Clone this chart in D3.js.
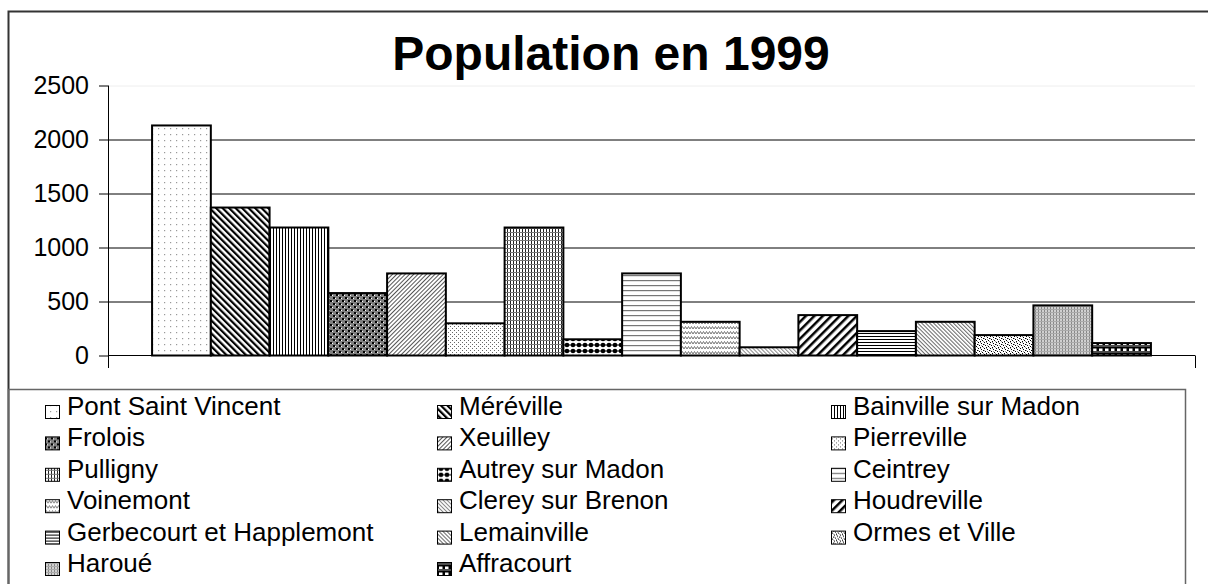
<!DOCTYPE html>
<html>
<head>
<meta charset="utf-8">
<script src="https://cdn.jsdelivr.net/npm/d3@7"></script>
<style>
body { margin: 0; background: #fff; }
svg { display: block; font-family: "Liberation Sans", Arial, sans-serif; }
</style>
</head>
<body>
<svg id="chart" width="1208" height="584"></svg>
<script>
var communes = ["Pont Saint Vincent", "Méréville", "Bainville sur Madon", "Frolois", "Xeuilley",
    "Pierreville", "Pulligny", "Autrey sur Madon", "Ceintrey", "Voinemont", "Clerey sur Brenon",
    "Houdreville", "Gerbecourt et Happlemont", "Lemainville", "Ormes et Ville", "Haroué", "Affracourt"];
var population = [2130, 1370, 1185, 578, 760, 298, 1185, 150, 760, 312, 76, 374, 226, 312, 189, 464, 115];
var yTicks = [0, 500, 1000, 1500, 2000, 2500];
var title = "Population en 1999";

var svg = d3.select("#chart");
var plot = {left: 108, right: 1195, top: 85.5, bottom: 355.5};

// hatch patterns, one per commune (Excel style black & white fills)
var defs = svg.append("defs");
function pattern(id, w, h, bg, transform) {
    var p = defs.append("pattern")
        .attr("id", id)
        .attr("patternUnits", "userSpaceOnUse")
        .attr("width", w)
        .attr("height", h);
    if (transform) p.attr("patternTransform", transform);
    p.append("rect").attr("width", w).attr("height", h).attr("fill", bg);
    return p;
}
function px(p, x, y, w, h, c) {
    p.append("rect").attr("x", x).attr("y", y).attr("width", w).attr("height", h).attr("fill", c);
}
var p;
p = pattern("p0", 6, 6, "#fff"); px(p, 2, 2, 1.2, 1.2, "#999");
p = pattern("p1", 4.6, 4.6, "#fff", "rotate(-45)"); px(p, 0, 0, 2.2, 4.6, "#000");
p = pattern("p2", 3, 3, "#fff"); px(p, 0, 0, 1, 3, "#000");
p = pattern("p3", 6, 6, "#808080");
px(p, 0, 0, 2, 2, "#000"); px(p, 3, 3, 2, 2, "#000"); px(p, 2, 1, 1, 1, "#fff"); px(p, 5, 4, 1, 1, "#fff");
p = pattern("p4", 3, 3, "#fff", "rotate(45)"); px(p, 0, 0, 1, 3, "#555");
p = pattern("p5", 8, 8, "#fff");
[[0, 0], [2, 2], [4, 4], [6, 6], [4, 0], [6, 2], [0, 4], [2, 6]].forEach(function(d) { px(p, d[0], d[1], 1, 1, "#666"); });
p = pattern("p6", 3, 4, "#fff"); px(p, 0, 0, 1, 4, "#222"); px(p, 0, 0, 3, 1, "#777");
p = pattern("p7", 6, 6, "#fff");
p.append("circle").attr("cx", 3).attr("cy", 3).attr("r", 2.3).attr("fill", "#000");
px(p, 0, 2.5, 6, 1, "#000");
p = pattern("p8", 5, 5, "#fff"); px(p, 0, 0, 5, 1.2, "#777");
p = pattern("p9", 6, 5, "#fff");
p.append("path").attr("d", "M0,4 L1.5,1.5 L3,4 L4.5,1.5 L6,4").attr("fill", "none").attr("stroke", "#777").attr("stroke-width", 1);
p = pattern("p10", 2.8, 2.8, "#fff", "rotate(-45)"); px(p, 0, 0, 1, 2.8, "#888");
p = pattern("p11", 6, 6, "#fff", "rotate(45)"); px(p, 0, 0, 2.5, 6, "#000");
p = pattern("p12", 3, 3, "#fff"); px(p, 0, 0, 3, 1, "#000");
p = pattern("p13", 2.8, 2.8, "#fff", "rotate(-45)"); px(p, 0, 0, 1, 2.8, "#666");
p = pattern("p14", 6, 6, "#fff");
[[0, 0], [3, 1], [1, 3], [4, 4], [2, 5], [5, 2]].forEach(function(d) { px(p, d[0], d[1], 1, 1, "#000"); });
[[2, 0], [5, 5], [0, 2], [3, 3]].forEach(function(d) { px(p, d[0], d[1], 1, 1, "#999"); });
p = pattern("p15", 3, 3, "#d0d0d0"); px(p, 0, 0, 1, 3, "#888"); px(p, 0, 0, 3, 1, "#aaa");
p = pattern("p16", 6, 6, "#000"); px(p, 1, 0.5, 3.5, 2.5, "#fff"); px(p, 0, 3.5, 6, 1, "#999");

var x = d3.scaleBand()
    .domain(communes)
    .range([plot.left, plot.right])
    .paddingInner(0)
    .paddingOuter(0.75);

var y = d3.scaleLinear()
    .domain([0, 2500])
    .range([plot.bottom, plot.top]);

// outer chart frame
svg.append("rect")
    .attr("x", 8.5).attr("y", 11.5)
    .attr("width", 1300).attr("height", 700)
    .attr("fill", "none").attr("stroke", "#333").attr("stroke-width", 2);

svg.append("text")
    .attr("x", 611)
    .attr("y", 70)
    .attr("text-anchor", "middle")
    .attr("font-size", 48)
    .attr("font-weight", "bold")
    .text(title);

// gridlines
var grid = svg.append("g")
    .attr("transform", "translate(" + plot.left + ",0)")
    .call(d3.axisLeft(y).tickValues(yTicks.slice(1)).tickSize(-(plot.right - plot.left)).tickFormat(""));
grid.select(".domain").remove();
grid.selectAll("line").attr("stroke", function(d) { return d === 2500 ? "#eee" : "#000"; });

// y axis
var yAxis = svg.append("g")
    .attr("transform", "translate(" + plot.left + ",0)")
    .call(d3.axisLeft(y).tickValues(yTicks).tickFormat(d3.format("d")).tickSize(9).tickPadding(10));
yAxis.select(".domain").remove();
yAxis.selectAll("line").attr("stroke", "#000");
yAxis.selectAll("text").attr("font-size", 25).attr("fill", "#000")
    .attr("font-family", "Liberation Sans, Arial, sans-serif");

svg.append("line")
    .attr("x1", plot.left + 0.5).attr("x2", plot.left + 0.5)
    .attr("y1", plot.top).attr("y2", 368)
    .attr("stroke", "#000");

// bars
svg.append("g")
    .selectAll("rect")
    .data(population)
    .enter()
    .append("rect")
    .attr("x", function(d, i) { return x(communes[i]); })
    .attr("y", function(d) { return y(d); })
    .attr("width", x.bandwidth())
    .attr("height", function(d) { return y(0) - y(d); })
    .attr("fill", function(d, i) { return "url(#p" + i + ")"; })
    .attr("stroke", "#000")
    .attr("stroke-width", 2);

// category axis
svg.append("line")
    .attr("x1", plot.left).attr("x2", plot.right)
    .attr("y1", y(0)).attr("y2", y(0))
    .attr("stroke", "#000");
svg.append("line")
    .attr("x1", plot.right + 0.5).attr("x2", plot.right + 0.5)
    .attr("y1", y(0)).attr("y2", 368)
    .attr("stroke", "#000");

// legend
svg.append("rect")
    .attr("x", 8.5).attr("y", 389.5)
    .attr("width", 1177).attr("height", 300)
    .attr("fill", "none").attr("stroke", "#666").attr("stroke-width", 1.5);

var markerX = [45, 437, 831],
    labelX = [67, 459, 853];

var legend = svg.append("g")
    .selectAll("g")
    .data(communes)
    .enter()
    .append("g")
    .attr("transform", function(d, i) {
        return "translate(0," + (415 + Math.floor(i / 3) * 31.4) + ")";
    });

legend.append("rect")
    .attr("x", function(d, i) { return markerX[i % 3] + 0.5; })
    .attr("y", -9.5)
    .attr("width", 14)
    .attr("height", 13)
    .attr("fill", function(d, i) { return "url(#p" + i + ")"; })
    .attr("stroke", "#000");

legend.append("text")
    .attr("x", function(d, i) { return labelX[i % 3]; })
    .attr("font-size", 26)
    .text(function(d) { return d; });
</script>
</body>
</html>
